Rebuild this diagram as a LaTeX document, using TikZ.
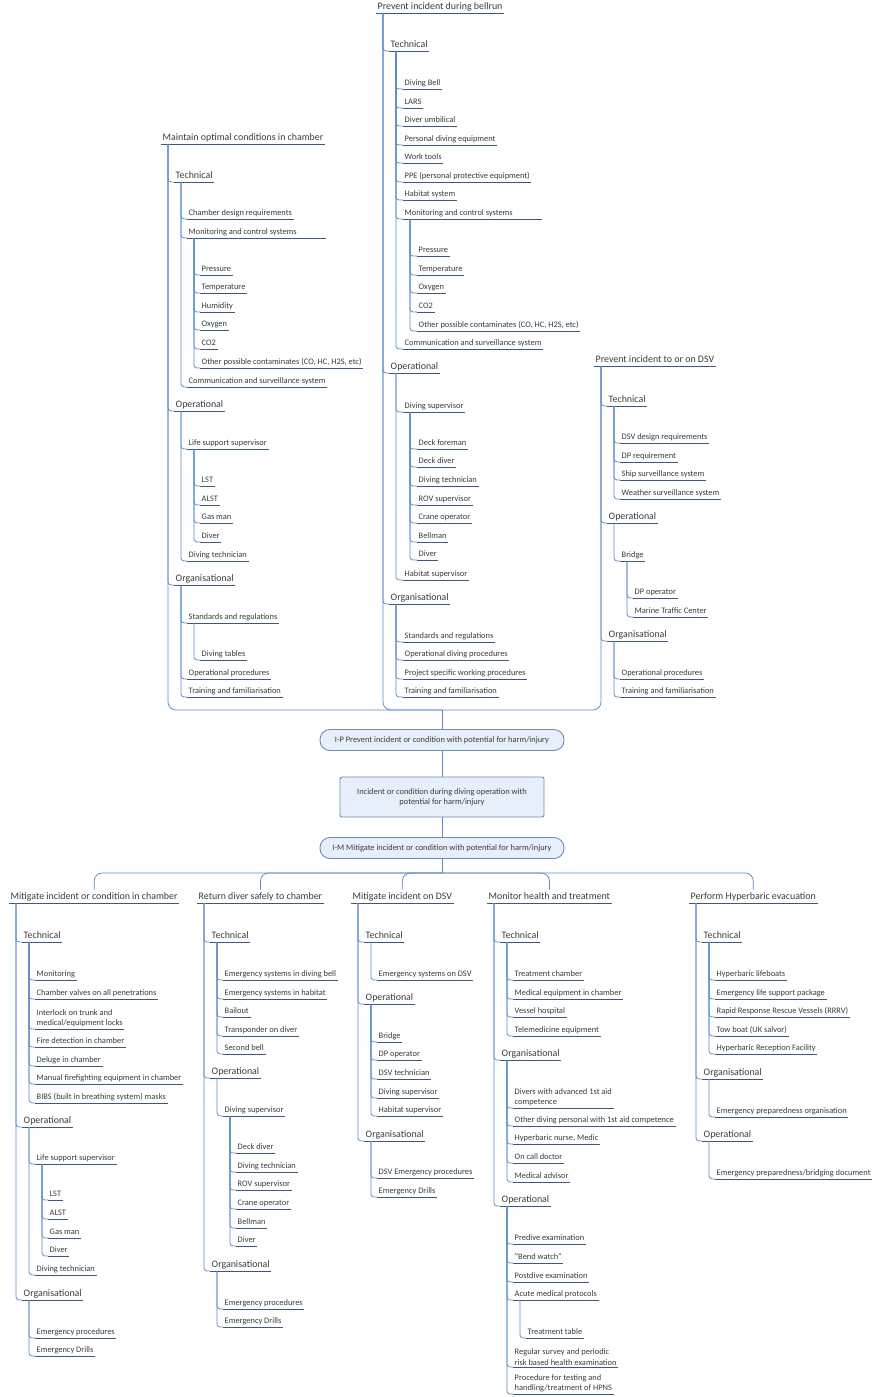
\documentclass[tikz,border=0pt]{standalone}
\usepackage{fontspec}
\setmainfont{Carlito}
\definecolor{txtc}{HTML}{3A3A3A}
\definecolor{ulc}{HTML}{3E5878}
\definecolor{lnc}{HTML}{5A8BC6}
\definecolor{boxf}{HTML}{E7F0FA}
\definecolor{boxd}{HTML}{6E8BAE}

\begin{document}
\begin{tikzpicture}[x=1pt, y=-1pt,
	uline/.style={draw=ulc, line width=0.6pt},
	conn/.style={draw=lnc, line width=0.75pt, rounded corners=3pt},
	ttl/.style={anchor=south west, inner xsep=1.5pt, inner ysep=3pt, text depth=0pt,
		text=txtc, font=\fontsize{9.9}{12}\selectfont,
		append after command={(\tikzlastnode.south west) edge[uline] (\tikzlastnode.south east)}},
	leaf/.style={ttl, font=\fontsize{8.4}{10.4}\selectfont},
	leaftwo/.style={leaf, text depth=, inner ysep=1.5pt, align=left},
	pill/.style={draw=boxd, fill=boxf, line width=0.9pt, rounded corners=10pt,
		minimum width=244pt, minimum height=21pt, text=txtc, font=\fontsize{8.4}{10.2}\selectfont},
	evbox/.style={pill, rounded corners=2pt, minimum width=204pt, minimum height=40pt, align=center}]

\useasboundingbox (0,0) rectangle (873,1397);

% Central boxes
\node[pill] (ip) at (442,740) {I-P Prevent incident or condition with potential for harm/injury};
\node[evbox] (ev) at (442,797) {Incident or condition during diving operation with\\potential for harm/injury};
\node[pill] (im) at (442,848) {I-M Mitigate incident or condition with potential for harm/injury};
\coordinate (tb) at (442,710);
\coordinate (bb) at (442,873);
\draw[conn] (ip) -- (tb);
\draw[conn] (ip) -- (ev);
\draw[conn] (ev) -- (im);
\draw[conn] (im) -- (bb);

% Column titles
\node[ttl] (mc) at (161,144) {Maintain optimal conditions in chamber};
\node[ttl] (pb) at (376,13) {Prevent incident during bellrun};
\node[ttl] (pd) at (594,366) {Prevent incident to or on DSV};
\node[ttl] (ma) at (9,903) {Mitigate incident or condition in chamber};
\node[ttl] (rd) at (197,903) {Return diver safely to chamber};
\node[ttl] (md) at (351,903) {Mitigate incident on DSV};
\node[ttl] (mh) at (487,903) {Monitor health and treatment};
\node[ttl] (he) at (689,903) {Perform Hyperbaric evacuation};

\foreach \c in {mc, pb, pd}
	\draw[conn, rounded corners=8pt] (tb) -| ([xshift=7pt]\c.south west);
\foreach \c in {ma, rd, md, mh, he}
	\draw[conn, rounded corners=8pt] (bb) -| (\c.north);

% Technical / Operational / Organisational
\foreach \prt/\x/\nm/\y/\txt in {
	mc/174/mcT/182/Technical, mc/174/mcO/411/Operational, mc/174/mcG/585/Organisational,
	pb/389/pbT/51/Technical, pb/389/pbO/373/Operational, pb/389/pbG/604/Organisational,
	pd/607/pdT/406/Technical, pd/607/pdO/523/Operational, pd/607/pdG/641/Organisational,
	ma/22/maT/942/Technical, ma/22/maO/1127/Operational, ma/22/maG/1300/Organisational,
	rd/210/rdT/942/Technical, rd/210/rdO/1078/Operational, rd/210/rdG/1271/Organisational,
	md/364/mdT/942/Technical, md/364/mdO/1004/Operational, md/364/mdG/1141/Organisational,
	mh/500/mhT/942/Technical, mh/500/mhG/1060/Organisational, mh/500/mhO/1206/Operational,
	he/702/heT/942/Technical, he/702/heG/1079/Organisational, he/702/heO/1141/Operational}{
	\node[ttl] (\nm) at (\x,\y) {\txt};
	\draw[conn] ([xshift=7pt]\prt.south west) |- (\nm.south west);
}

% Maintain optimal conditions in chamber
\foreach \prt/\x/\nm/\y/\txt in {
	mcT/187/mcT1/219/Chamber design requirements,
	mcT/187/mcT2/238/Monitoring and control systems,
	mcT2/200/mcM1/275/Pressure,
	mcT2/200/mcM2/293/Temperature,
	mcT2/200/mcM3/312/Humidity,
	mcT2/200/mcM4/330/Oxygen,
	mcT2/200/mcM5/349/CO2,
	mcT2/200/mcM6/368/{Other possible contaminates (CO, HC, H2S, etc)},
	mcT/187/mcT3/387/Communication and surveillance system,
	mcO/187/mcO1/449/Life support supervisor,
	mcO1/200/mcL1/486/LST,
	mcO1/200/mcL2/505/ALST,
	mcO1/200/mcL3/523/Gas man,
	mcO1/200/mcL4/542/Diver,
	mcO/187/mcO2/561/Diving technician,
	mcG/187/mcG1/623/Standards and regulations,
	mcG1/200/mcS1/660/Diving tables,
	mcG/187/mcG2/679/Operational procedures,
	mcG/187/mcG3/697/Training and familiarisation}{
	\node[leaf] (\nm) at (\x,\y) {\txt};
	\draw[conn] ([xshift=7pt]\prt.south west) |- (\nm.south west);
}
\draw[uline] (mcT2.south east) -- ++(28,0);

% Prevent incident during bellrun
\foreach \prt/\x/\nm/\y/\txt in {
	pbT/403/pbT1/89/Diving Bell,
	pbT/403/pbT2/108/LARS,
	pbT/403/pbT3/126/Diver umbilical,
	pbT/403/pbT4/145/Personal diving equipment,
	pbT/403/pbT5/163/Work tools,
	pbT/403/pbT6/182/PPE (personal protective equipment),
	pbT/403/pbT7/200/Habitat system,
	pbT/403/pbT8/219/Monitoring and control systems,
	pbT8/417/pbM1/256/Pressure,
	pbT8/417/pbM2/275/Temperature,
	pbT8/417/pbM3/293/Oxygen,
	pbT8/417/pbM4/312/CO2,
	pbT8/417/pbM5/331/{Other possible contaminates (CO, HC, H2S, etc)},
	pbT/403/pbT9/349/Communication and surveillance system,
	pbO/403/pbO1/412/Diving supervisor,
	pbO1/417/pbD1/449/Deck foreman,
	pbO1/417/pbD2/467/Deck diver,
	pbO1/417/pbD3/486/Diving technician,
	pbO1/417/pbD4/505/ROV supervisor,
	pbO1/417/pbD5/523/Crane operator,
	pbO1/417/pbD6/542/Bellman,
	pbO1/417/pbD7/560/Diver,
	pbO/403/pbO2/580/Habitat supervisor,
	pbG/403/pbG1/642/Standards and regulations,
	pbG/403/pbG2/660/Operational diving procedures,
	pbG/403/pbG3/679/Project specific working procedures,
	pbG/403/pbG4/697/Training and familiarisation}{
	\node[leaf] (\nm) at (\x,\y) {\txt};
	\draw[conn] ([xshift=7pt]\prt.south west) |- (\nm.south west);
}
\draw[uline] (pbT8.south east) -- ++(28,0);

% Prevent incident to or on DSV
\foreach \prt/\x/\nm/\y/\txt in {
	pdT/620/pdT1/443/DSV design requirements,
	pdT/620/pdT2/462/DP requirement,
	pdT/620/pdT3/480/Ship surveillance system,
	pdT/620/pdT4/499/Weather surveillance system,
	pdO/620/pdO1/561/Bridge,
	pdO1/633/pdB1/598/DP operator,
	pdO1/633/pdB2/617/Marine Traffic Center,
	pdG/620/pdG1/679/Operational procedures,
	pdG/620/pdG2/697/Training and familiarisation}{
	\node[leaf] (\nm) at (\x,\y) {\txt};
	\draw[conn] ([xshift=7pt]\prt.south west) |- (\nm.south west);
}

% Mitigate incident or condition in chamber
\foreach \prt/\x/\nm/\y/\txt in {
	maT/35/maT1/980/Monitoring,
	maT/35/maT2/999/Chamber valves on all penetrations,
	maT/35/maT4/1047/Fire detection in chamber,
	maT/35/maT5/1066/Deluge in chamber,
	maT/35/maT6/1084/Manual firefighting equipment in chamber,
	maT/35/maT7/1103/BIBS (built in breathing system) masks,
	maO/35/maO1/1164/Life support supervisor,
	maO1/48/maL1/1200/LST,
	maO1/48/maL2/1219/ALST,
	maO1/48/maL3/1238/Gas man,
	maO1/48/maL4/1256/Diver,
	maO/35/maO2/1275/Diving technician,
	maG/35/maG1/1338/Emergency procedures,
	maG/35/maG2/1356/Emergency Drills}{
	\node[leaf] (\nm) at (\x,\y) {\txt};
	\draw[conn] ([xshift=7pt]\prt.south west) |- (\nm.south west);
}
\node[leaftwo] (maT3) at (35,1029) {Interlock on trunk and\\medical/equipment locks};
\draw[conn] ([xshift=7pt]maT.south west) |- (maT3.south west);

% Return diver safely to chamber
\foreach \prt/\x/\nm/\y/\txt in {
	rdT/223/rdT1/980/Emergency systems in diving bell,
	rdT/223/rdT2/999/Emergency systems in habitat,
	rdT/223/rdT3/1017/Bailout,
	rdT/223/rdT4/1036/Transponder on diver,
	rdT/223/rdT5/1054/Second bell,
	rdO/223/rdO1/1116/Diving supervisor,
	rdO1/236/rdD1/1153/Deck diver,
	rdO1/236/rdD2/1172/Diving technician,
	rdO1/236/rdD3/1190/ROV supervisor,
	rdO1/236/rdD4/1209/Crane operator,
	rdO1/236/rdD5/1228/Bellman,
	rdO1/236/rdD6/1246/Diver,
	rdG/223/rdG1/1309/Emergency procedures,
	rdG/223/rdG2/1327/Emergency Drills}{
	\node[leaf] (\nm) at (\x,\y) {\txt};
	\draw[conn] ([xshift=7pt]\prt.south west) |- (\nm.south west);
}

% Mitigate incident on DSV
\foreach \prt/\x/\nm/\y/\txt in {
	mdT/377/mdT1/980/Emergency systems on DSV,
	mdO/377/mdO1/1042/Bridge,
	mdO/377/mdO2/1060/DP operator,
	mdO/377/mdO3/1079/DSV technician,
	mdO/377/mdO4/1098/Diving supervisor,
	mdO/377/mdO5/1116/Habitat supervisor,
	mdG/377/mdG1/1178/DSV Emergency procedures,
	mdG/377/mdG2/1197/Emergency Drills}{
	\node[leaf] (\nm) at (\x,\y) {\txt};
	\draw[conn] ([xshift=7pt]\prt.south west) |- (\nm.south west);
}

% Monitor health and treatment
\foreach \prt/\x/\nm/\y/\txt in {
	mhT/513/mhT1/980/Treatment chamber,
	mhT/513/mhT2/999/Medical equipment in chamber,
	mhT/513/mhT3/1017/Vessel hospital,
	mhT/513/mhT4/1036/Telemedicine equipment,
	mhG/513/mhG2/1126/Other diving personal with 1st aid competence,
	mhG/513/mhG3/1144/{Hyperbaric nurse, Medic},
	mhG/513/mhG4/1163/On call doctor,
	mhG/513/mhG5/1182/Medical advisor,
	mhO/513/mhO1/1244/Predive examination,
	mhO/513/mhO2/1263/``Bend watch'',
	mhO/513/mhO3/1282/Postdive examination,
	mhO/513/mhO4/1300/Acute medical protocols,
	mhO4/526/mhA1/1338/Treatment table}{
	\node[leaf] (\nm) at (\x,\y) {\txt};
	\draw[conn] ([xshift=7pt]\prt.south west) |- (\nm.south west);
}
\node[leaftwo] (mhG1) at (513,1108) {Divers with advanced 1st aid\\competence};
\draw[conn] ([xshift=7pt]mhG.south west) |- (mhG1.south west);
\node[leaftwo] (mhO5) at (513,1367) {Regular survey and periodic\\risk based health examination};
\draw[conn] ([xshift=7pt]mhO.south west) |- (mhO5.south west);
\node[leaftwo] (mhO6) at (513,1394) {Procedure for testing and\\handling/treatment of HPNS};
\draw[conn] ([xshift=7pt]mhO.south west) |- (mhO6.south west);

% Perform Hyperbaric evacuation
\foreach \prt/\x/\nm/\y/\txt in {
	heT/715/heT1/980/Hyperbaric lifeboats,
	heT/715/heT2/999/Emergency life support package,
	heT/715/heT3/1017/Rapid Response Rescue Vessels (RRRV),
	heT/715/heT4/1036/Tow boat (UK salvor),
	heT/715/heT5/1054/Hyperbaric Reception Facility,
	heG/715/heG1/1117/Emergency preparedness organisation,
	heO/715/heO1/1179/{Emergency preparedness/bridging document}}{
	\node[leaf] (\nm) at (\x,\y) {\txt};
	\draw[conn] ([xshift=7pt]\prt.south west) |- (\nm.south west);
}
\end{tikzpicture}
\end{document}
